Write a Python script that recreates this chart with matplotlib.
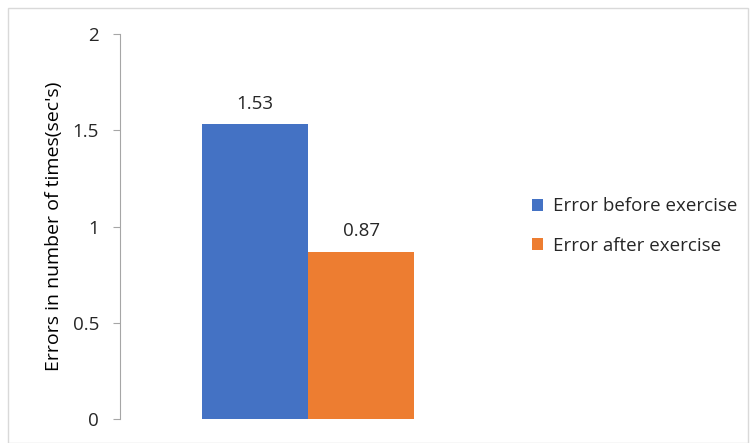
import matplotlib.pyplot as plt
from matplotlib.patches import Rectangle

plt.rcParams['font.family'] = ['Open Sans', 'DejaVu Sans']

# Data
series = ['Error before exercise', 'Error after exercise']
values = [1.53, 0.87]
colors = ['#4472C4', '#ED7D31']
yticks = [0, 0.5, 1, 1.5, 2]

W, H = 752, 443
fig = plt.figure(figsize=(W / 100, H / 100), dpi=100)

# plot area in pixels: x 120..496, y 34..419
ax = fig.add_axes([120 / W, (H - 419) / H, (496 - 120) / W, (419 - 34) / H])

fs = 13.5
bar_w = 0.283
offsets = [-bar_w / 2, bar_w / 2]
for name, val, col, off in zip(series, values, colors, offsets):
    ax.bar(off, val, width=bar_w, color=col, label=name, edgecolor='none')
    ax.annotate(f"{val:.2f}", (off, val), xytext=(0, 8), textcoords='offset points',
                ha='center', va='bottom', fontsize=fs, color='#262626')

ax.set_xlim(-0.5, 0.5)
ax.set_ylim(0, 2)
ax.set_yticks(yticks)
ax.set_yticklabels([f"{t:g}" for t in yticks], fontsize=fs, color='#262626')
ax.set_xticks([])
for s in ['top', 'right', 'bottom']:
    ax.spines[s].set_visible(False)
ax.spines['left'].set_color('#A6A6A6')
ax.tick_params(axis='y', color='#A6A6A6', length=5, pad=10)
ax.set_ylabel("Errors in number of times(sec's)", fontsize=14, color='#000000',
              labelpad=7, fontweight='medium')

leg = fig.legend(loc='center left', bbox_to_anchor=(515 / W, 1 - 226 / H),
                 frameon=False, fontsize=fs, handlelength=0.6, handleheight=0.6,
                 handletextpad=0.55, labelspacing=1.15)
for t in leg.get_texts():
    t.set_color('#262626')

# chart border
fig.patches.append(Rectangle((8 / W, 0), (740) / W, (H - 8) / H, transform=fig.transFigure,
                             fill=False, edgecolor='#D9D9D9', linewidth=1))

fig.savefig('out.png', dpi=100)
